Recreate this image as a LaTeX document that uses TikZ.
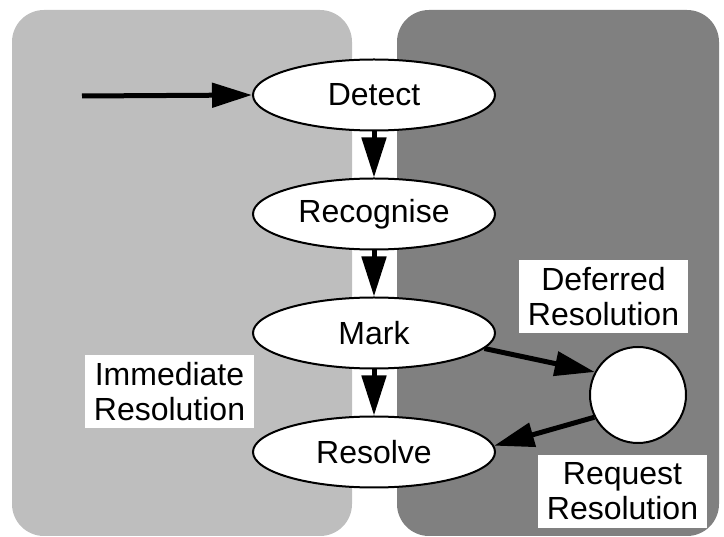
\documentclass[tikz,border=0pt]{standalone}
\usepackage{fontspec}
\setmainfont{Liberation Sans}
\usetikzlibrary{shapes.geometric,arrows.meta}
\definecolor{lightpanel}{HTML}{BEBEBE}
\definecolor{darkpanel}{HTML}{808080}
\begin{document}
\begin{tikzpicture}[x=1pt,y=-1pt,
  stage/.style={ellipse,draw=black,line width=2pt,fill=white,
    minimum width=242pt,minimum height=71pt,inner sep=0pt,
    font=\fontsize{32}{35}\selectfont},
  holder/.style={circle,draw=black,line width=2pt,fill=white,
    minimum size=96pt,inner sep=0pt},
  tag/.style={fill=white,align=center,inner sep=0pt,
    minimum width=169pt,minimum height=73pt,
    font=\fontsize{32}{35}\selectfont},
  flow/.style={line width=5pt,-{Triangle[length=40pt,width=24pt]}}]
  \useasboundingbox (0,0) rectangle (724,537);
  % two background regions
  \fill[lightpanel,rounded corners=32pt] (12,10) rectangle (352,536);
  \fill[darkpanel,rounded corners=32pt] (397,10) rectangle (719,536);
  % stages
  \node[stage] (detect) at (374,95) {Detect};
  \node[stage] (recog) at (374,214) {Recognise};
  \node[stage] (mark) at (374,333) {Mark};
  \node[stage] (resolve) at (374,452) {Resolve};
  \node[holder] (def) at (638,395) {};
  % labels
  \node[tag] (immediate) at (169.5,392) {Immediate\\Resolution};
  \node[tag] (deferred) at (603.5,296.5) {Deferred\\Resolution};
  \node[tag] (request) at (622.5,491.5) {Request\\Resolution};
  % connectors
  \coordinate (entry) at (82,96);
  \draw[flow] (entry) -- (detect.west);
  \draw[flow] (detect.south) -- (recog.north);
  \draw[flow] (recog.south) -- (mark.north);
  \draw[flow] (mark.south) -- (resolve.north);
  \draw[flow] (mark.-8) -- (def.152);
  \draw[flow] (def.207) -- (resolve.3);
\end{tikzpicture}
\end{document}
